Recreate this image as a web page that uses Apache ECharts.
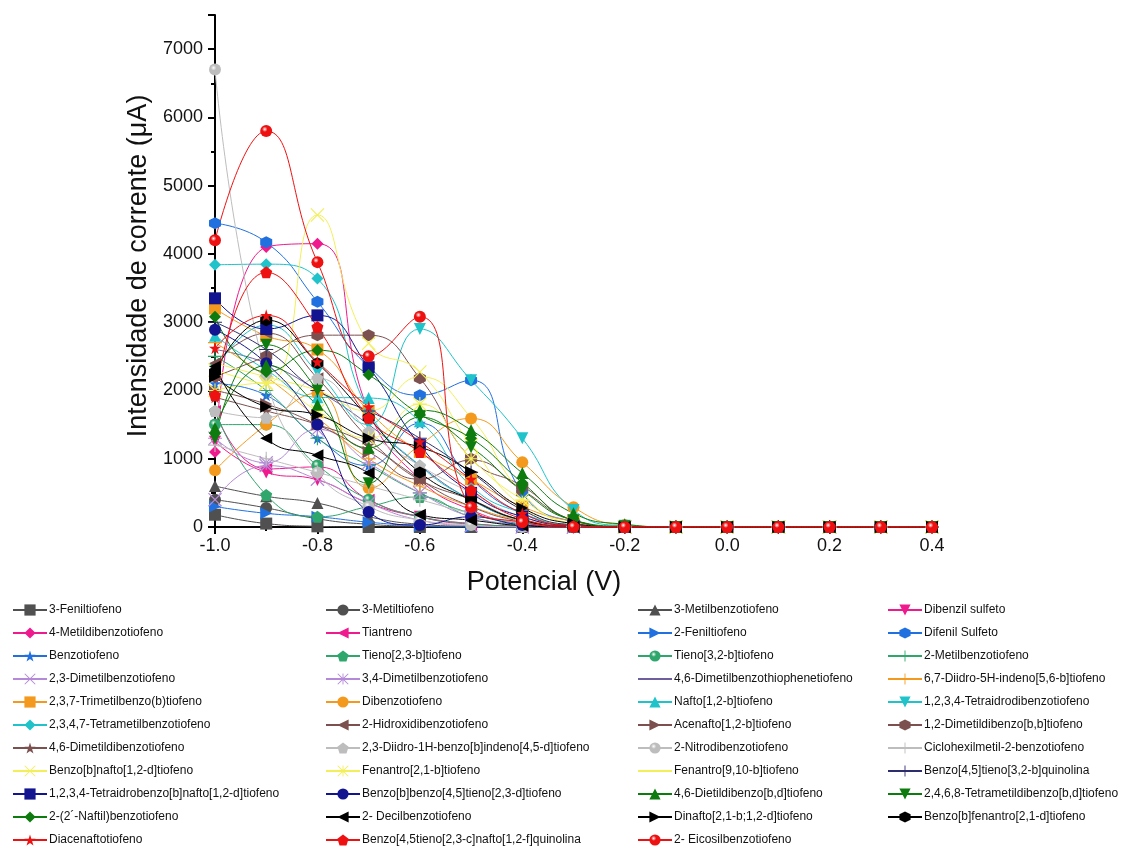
<!DOCTYPE html>
<html>
<head>
<meta charset="utf-8">
<script src="https://cdn.jsdelivr.net/npm/echarts@6/dist/echarts.min.js"></script>
<style>
  html, body { margin: 0; padding: 0; background: #fff; }
  #main { width: 1146px; height: 847px; }
</style>
</head>
<body>
<div id="main"></div>
<script>
// eixo x (V)
var potencial = [-1.0, -0.9, -0.8, -0.7, -0.6, -0.5, -0.4, -0.3, -0.2, -0.1, 0.0, 0.1, 0.2, 0.3, 0.4];

// nomes das series (mesma ordem da legenda)
var nomes = [
  '3-Feniltiofeno', '3-Metiltiofeno', '3-Metilbenzotiofeno', 'Dibenzil sulfeto',
  '4-Metildibenzotiofeno', 'Tiantreno', '2-Feniltiofeno', 'Difenil Sulfeto',
  'Benzotiofeno', 'Tieno[2,3-b]tiofeno', 'Tieno[3,2-b]tiofeno', '2-Metilbenzotiofeno',
  '2,3-Dimetilbenzotiofeno', '3,4-Dimetilbenzotiofeno', '4,6-Dimetilbenzothiophenetiofeno', '6,7-Diidro-5H-indeno[5,6-b]tiofeno',
  '2,3,7-Trimetilbenzo(b)tiofeno', 'Dibenzotiofeno', 'Nafto[1,2-b]tiofeno', '1,2,3,4-Tetraidrodibenzotiofeno',
  '2,3,4,7-Tetrametilbenzotiofeno', '2-Hidroxidibenzotiofeno', 'Acenafto[1,2-b]tiofeno', '1,2-Dimetildibenzo[b,b]tiofeno',
  '4,6-Dimetildibenzotiofeno', '2,3-Diidro-1H-benzo[b]indeno[4,5-d]tiofeno', '2-Nitrodibenzotiofeno', 'Ciclohexilmetil-2-benzotiofeno',
  'Benzo[b]nafto[1,2-d]tiofeno', 'Fenantro[2,1-b]tiofeno', 'Fenantro[9,10-b]tiofeno', 'Benzo[4,5]tieno[3,2-b]quinolina',
  '1,2,3,4-Tetraidrobenzo[b]nafto[1,2-d]tiofeno', 'Benzo[b]benzo[4,5]tieno[2,3-d]tiofeno', '4,6-Dietildibenzo[b,d]tiofeno', '2,4,6,8-Tetrametildibenzo[b,d]tiofeno',
  '2-(2\u00b4-Naftil)benzotiofeno', '2- Decilbenzotiofeno', 'Dinafto[2,1-b;1,2-d]tiofeno', 'Benzo[b]fenantro[2,1-d]tiofeno',
  'Diacenaftotiofeno', 'Benzo[4,5tieno[2,3-c]nafto[1,2-f]quinolina', '2- Eicosilbenzotiofeno'
];

// intensidade de corrente (uA), um vetor por serie
var correntes = [
  [180, 50, 10, 0, 0, 0, 0, 0, 0, 0, 0, 0, 0, 0, 0],
  [400, 280, 120, 40, 10, 0, 0, 0, 0, 0, 0, 0, 0, 0, 0],
  [600, 450, 350, 150, 40, 10, 0, 0, 0, 0, 0, 0, 0, 0, 0],
  [1250, 800, 690, 350, 150, 50, 10, 0, 0, 0, 0, 0, 0, 0, 0],
  [1100, 4100, 4150, 1700, 700, 250, 60, 10, 0, 0, 0, 0, 0, 0, 0],
  [1700, 850, 880, 400, 150, 40, 10, 0, 0, 0, 0, 0, 0, 0, 0],
  [300, 200, 150, 70, 20, 0, 0, 0, 0, 0, 0, 0, 0, 0, 0],
  [4450, 4170, 3300, 2350, 1930, 2150, 500, 80, 0, 0, 0, 0, 0, 0, 0],
  [2100, 1930, 1300, 900, 1520, 700, 200, 30, 0, 0, 0, 0, 0, 0, 0],
  [1700, 470, 150, 300, 440, 150, 30, 0, 0, 0, 0, 0, 0, 0, 0],
  [1500, 1500, 900, 400, 150, 50, 10, 0, 0, 0, 0, 0, 0, 0, 0],
  [2500, 2000, 1300, 900, 500, 200, 50, 10, 0, 0, 0, 0, 0, 0, 0],
  [400, 900, 700, 350, 100, 20, 0, 0, 0, 0, 0, 0, 0, 0, 0],
  [1300, 940, 1430, 940, 500, 150, 40, 0, 0, 0, 0, 0, 0, 0, 0],
  [2600, 2400, 2000, 1500, 900, 400, 100, 10, 0, 0, 0, 0, 0, 0, 0],
  [2700, 2200, 1600, 1000, 600, 300, 100, 30, 0, 0, 0, 0, 0, 0, 0],
  [3200, 2800, 2600, 1700, 1100, 700, 300, 80, 0, 0, 0, 0, 0, 0, 0],
  [830, 1500, 1960, 570, 1200, 1590, 950, 290, 30, 0, 0, 0, 0, 0, 0],
  [2800, 2300, 1900, 1890, 1550, 600, 200, 30, 0, 0, 0, 0, 0, 0, 0],
  [2300, 2960, 2270, 1500, 2900, 2150, 1300, 250, 20, 0, 0, 0, 0, 0, 0],
  [3840, 3850, 3640, 1700, 900, 400, 100, 10, 0, 0, 0, 0, 0, 0, 0],
  [2400, 2840, 2180, 1300, 700, 300, 80, 0, 0, 0, 0, 0, 0, 0, 0],
  [2000, 1800, 1500, 1100, 700, 980, 540, 100, 0, 0, 0, 0, 0, 0, 0],
  [2200, 2500, 2810, 2810, 2180, 1000, 600, 100, 0, 0, 0, 0, 0, 0, 0],
  [1900, 1700, 1500, 1200, 690, 400, 100, 10, 0, 0, 0, 0, 0, 0, 0],
  [1700, 1600, 2180, 1400, 900, 500, 150, 20, 0, 0, 0, 0, 0, 0, 0],
  [6700, 2200, 800, 300, 100, 30, 0, 0, 0, 0, 0, 0, 0, 0, 0],
  [1200, 1000, 800, 600, 400, 200, 60, 10, 0, 0, 0, 0, 0, 0, 0],
  [2300, 2100, 4570, 2690, 2270, 1200, 300, 30, 0, 0, 0, 0, 0, 0, 0],
  [2000, 2110, 1700, 1300, 1800, 1000, 400, 50, 0, 0, 0, 0, 0, 0, 0],
  [2400, 2200, 2000, 1700, 2200, 1600, 500, 50, 0, 0, 0, 0, 0, 0, 0],
  [3000, 2600, 2000, 1700, 1300, 800, 250, 30, 0, 0, 0, 0, 0, 0, 0],
  [3350, 2900, 3100, 2340, 1200, 500, 150, 20, 0, 0, 0, 0, 0, 0, 0],
  [2890, 2400, 1500, 220, 30, 150, 30, 0, 0, 0, 0, 0, 0, 0, 0],
  [1450, 2370, 1790, 1160, 1710, 1420, 790, 200, 40, 0, 0, 0, 0, 0, 0],
  [1300, 2670, 2000, 640, 1610, 1170, 540, 100, 10, 0, 0, 0, 0, 0, 0],
  [3080, 2270, 2590, 2230, 1650, 1300, 650, 100, 0, 0, 0, 0, 0, 0, 0],
  [2350, 1300, 1050, 790, 180, 100, 20, 0, 0, 0, 0, 0, 0, 0, 0],
  [2200, 1760, 1640, 1300, 1170, 810, 280, 50, 0, 0, 0, 0, 0, 0, 0],
  [2270, 3030, 2400, 1600, 800, 400, 100, 10, 0, 0, 0, 0, 0, 0, 0],
  [2620, 3100, 2420, 1760, 1250, 700, 200, 20, 0, 0, 0, 0, 0, 0, 0],
  [1930, 3730, 2930, 1600, 1100, 540, 120, 10, 0, 0, 0, 0, 0, 0, 0],
  [4200, 5800, 3880, 2500, 3080, 290, 70, 0, 0, 0, 0, 0, 0, 0, 0]
];

var xTicks = [-1.0, -0.8, -0.6, -0.4, -0.2, 0.0, 0.2, 0.4];
var yTicks = [0, 1000, 2000, 3000, 4000, 5000, 6000, 7000];

// simbolos (estilo Origin)
var SYM = {
  sq: 'rect',
  ci: 'circle',
  up: 'triangle',
  dn: 'path://M0,0 L10,0 L5,9 Z',
  di: 'diamond',
  lt: 'path://M0,5 L9,0 L9,10 Z',
  rt: 'path://M0,0 L9,5 L0,10 Z',
  hx: 'path://M5,0 L9.33,2.5 L9.33,7.5 L5,10 L0.67,7.5 L0.67,2.5 Z',
  st: 'path://M5,0 L6.12,3.45 L9.76,3.45 L6.82,5.59 L7.94,9.05 L5,6.91 L2.06,9.05 L3.18,5.59 L0.24,3.45 L3.88,3.45 Z',
  pe: 'path://M5,0 L9.76,3.45 L7.94,9.05 L2.06,9.05 L0.24,3.45 Z',
  sp: 'circle',
  pl: 'path://M4.6,0 L5.4,0 L5.4,4.6 L10,4.6 L10,5.4 L5.4,5.4 L5.4,10 L4.6,10 L4.6,5.4 L0,5.4 L0,4.6 L4.6,4.6 Z',
  xx: 'path://M0,0.6 L0.6,0 L5,4.4 L9.4,0 L10,0.6 L5.6,5 L10,9.4 L9.4,10 L5,5.6 L0.6,10 L0,9.4 L4.4,5 Z',
  as: 'path://M0,0.6 L0.6,0 L5,4.4 L9.4,0 L10,0.6 L5.6,5 L10,9.4 L9.4,10 L5,5.6 L0.6,10 L0,9.4 L4.4,5 Z M4.6,0 L5.4,0 L5.4,10 L4.6,10 Z M0,4.6 L10,4.6 L10,5.4 L0,5.4 Z',
  no: 'none'
};

var estilo = [
  ['#505050', 'sq'], ['#505050', 'ci'], ['#505050', 'up'], ['#ef1a8e', 'dn'],
  ['#ef1a8e', 'di'], ['#ef1a8e', 'lt'], ['#2170e0', 'rt'], ['#2170e0', 'hx'],
  ['#2170e0', 'st'], ['#2fa66c', 'pe'], ['#2fa66c', 'sp'], ['#2fa66c', 'pl'],
  ['#b48ad8', 'xx'], ['#b48ad8', 'as'], ['#6d5f9e', 'no'], ['#f39a1e', 'pl'],
  ['#f39a1e', 'sq'], ['#f39a1e', 'ci'], ['#1fc3c9', 'up'], ['#1fc3c9', 'dn'],
  ['#1fc3c9', 'di'], ['#7d5050', 'lt'], ['#7d5050', 'rt'], ['#7d5050', 'hx'],
  ['#7d5050', 'st'], ['#bdbdbd', 'pe'], ['#bdbdbd', 'sp'], ['#bdbdbd', 'pl'],
  ['#f3ef5a', 'xx'], ['#f3ef5a', 'as'], ['#f3ef5a', 'no'], ['#2e2e6e', 'pl'],
  ['#12158f', 'sq'], ['#12158f', 'ci'], ['#0e7b0e', 'up'], ['#0e7b0e', 'dn'],
  ['#0e7b0e', 'di'], ['#000000', 'lt'], ['#000000', 'rt'], ['#000000', 'hx'],
  ['#ee1111', 'st'], ['#ee1111', 'pe'], ['#ee1111', 'sp']
];

function esfera(cor) {
  return {
    type: 'radial', x: 0.38, y: 0.35, r: 0.65,
    colorStops: [
      { offset: 0, color: '#ffffff' },
      { offset: 0.35, color: cor },
      { offset: 1, color: cor }
    ]
  };
}

var series = [];
for (var i = 0; i < nomes.length; i++) {
  var cor = estilo[i][0];
  var tipo = estilo[i][1];
  var pts = [];
  for (var j = 0; j < potencial.length; j++) {
    pts.push([potencial[j], correntes[i][j]]);
  }
  series.push({
    name: nomes[i],
    type: 'line',
    smooth: 0.5,
    data: pts,
    symbol: SYM[tipo],
    symbolSize: (tipo == 'pl' || tipo == 'xx' || tipo == 'as') ? 14 : 12,
    showSymbol: tipo != 'no',
    lineStyle: { color: cor, width: 1 },
    itemStyle: { color: tipo == 'sp' ? esfera(cor) : cor, borderWidth: 0 },
    emphasis: { disabled: true },
    animation: false
  });
}

// legenda em 4 colunas
var colX = [12, 325, 637, 887];
var legends = [];
for (var c = 0; c < 4; c++) {
  var itens = [];
  for (var k = c; k < nomes.length; k += 4) {
    if (estilo[k][1] == 'no') {
      // so linha, sem simbolo
      itens.push({ name: nomes[k], itemStyle: { opacity: 0 } });
    } else {
      itens.push({ name: nomes[k] });
    }
  }
  legends.push({
    orient: 'vertical',
    left: colX[c],
    top: 603,
    height: 300,
    itemWidth: 34,
    itemHeight: 14,
    itemGap: 9,
    padding: 0,
    selectedMode: false,
    textStyle: { fontFamily: 'Liberation Sans, Arial', fontSize: 12, color: '#111', lineHeight: 14, padding: [0, 0, 0, -3] },
    data: itens
  });
}

var chart = echarts.init(document.getElementById('main'));
chart.setOption({
  backgroundColor: '#fff',
  animation: false,
  legend: legends,
  grid: { left: 215, right: 214, top: 15, bottom: 320, containLabel: false },
  xAxis: {
    type: 'value',
    min: -1.0,
    max: 0.4,
    interval: 0.2,
    name: 'Potencial (V)',
    nameLocation: 'middle',
    nameGap: 42,
    nameTextStyle: { fontFamily: 'Liberation Sans, Arial', fontSize: 27, color: '#111', padding: [0, 59, 0, 0] },
    axisLine: { onZero: false, lineStyle: { color: '#000', width: 2 } },
    axisTick: { inside: false, length: 7, lineStyle: { color: '#000', width: 2 } },
    minorTick: { show: true, splitNumber: 2, length: 4, lineStyle: { color: '#000', width: 2 } },
    axisLabel: {
      margin: 10,
      fontFamily: 'Liberation Sans, Arial', fontSize: 18, color: '#111',
      formatter: function (v) {
        for (var t = 0; t < xTicks.length; t++) {
          if (Math.abs(xTicks[t] - v) < 1e-6) return xTicks[t].toFixed(1);
        }
        return '';
      }
    },
    splitLine: { show: false }
  },
  yAxis: {
    type: 'value',
    min: 0,
    max: 7500,
    interval: 1000,
    name: 'Intensidade de corrente (\u03bcA)',
    nameLocation: 'middle',
    nameGap: 61,
    nameTextStyle: { fontFamily: 'Liberation Sans, Arial', fontSize: 27, color: '#111', padding: [0, 0, 0, 10] },
    axisLine: { show: true, onZero: false, lineStyle: { color: '#000', width: 2 } },
    axisTick: { show: true, inside: false, length: 7, lineStyle: { color: '#000', width: 2 } },
    minorTick: { show: true, splitNumber: 2, length: 4, lineStyle: { color: '#000', width: 2 } },
    axisLabel: {
      margin: 12,
      fontFamily: 'Liberation Sans, Arial', fontSize: 18, color: '#111',
      formatter: function (v) { return yTicks.indexOf(v) >= 0 ? String(v) : ''; }
    },
    splitLine: { show: false }
  },
  series: series
});
</script>
</body>
</html>
